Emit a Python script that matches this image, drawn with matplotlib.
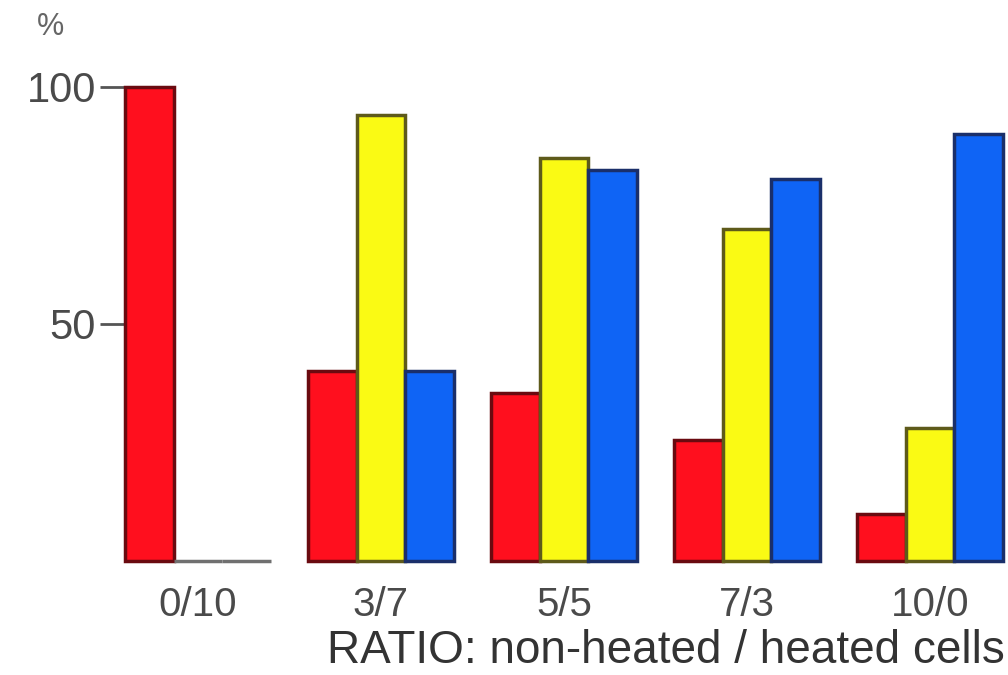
import matplotlib
matplotlib.use("Agg")
import matplotlib.pyplot as plt
import numpy as np

categories = ["0/10", "3/7", "5/5", "7/3", "10/0"]
red_vals = [100, 40, 35.5, 25.5, 10]
yellow_vals = [0, 94, 85, 70, 28]
blue_vals = [0, 40, 82.5, 80.5, 90]
y_ticks = [50, 100]
x_label = "RATIO: non-heated / heated cells"
y_unit = "%"

plt.rcParams['font.family'] = ['Liberation Sans', 'DejaVu Sans']

fig = plt.figure(figsize=(10.08, 6.75), dpi=100)
# axes placement (pixels -> fractions)
left_px, right_px = 125, 1008
bottom_px, top_px = 561, 63
ax = fig.add_axes([left_px / 1008, (675 - bottom_px) / 675,
                   (right_px - left_px) / 1008, (bottom_px - top_px) / 675])

w = 0.265
x = np.arange(len(categories))
series = [(red_vals, "#ff0f1e", "#6a0a10", -w),
          (yellow_vals, "#fafa14", "#5e5a1a", 0.0),
          (blue_vals, "#0f64f5", "#1a2f6a", w)]
for vals, fc, ec, off in series:
    edges = [ec if v > 0 else "#707070" for v in vals]
    ax.bar(x + off, vals, width=w, color=fc, edgecolor=edges, linewidth=2.5,
           clip_on=False, zorder=3)

ax.set_xlim(-1.5 * w, -1.5 * w + (right_px - left_px) / 183.1)
ax.set_ylim(0, 105)

for s in ax.spines.values():
    s.set_visible(False)

ax.set_yticks(y_ticks)
ax.set_yticklabels([str(v) for v in y_ticks], fontsize=30, color="#4a4a4a")
ax.tick_params(axis="y", length=18, width=2, color="#555555", pad=3)

ax.set_xticks(x)
ax.set_xticklabels(categories, fontsize=29, color="#4a4a4a")
ax.tick_params(axis="x", length=0, pad=18)

fig.text(666 / 1008, 1 - 651 / 675, x_label, fontsize=33, color="#333333",
         ha="center", va="center")
fig.text(50 / 1008, 1 - 27 / 675, y_unit, fontsize=22, color="#666666",
         ha="center", va="center")

fig.savefig("out.png", dpi=100, facecolor="white")
